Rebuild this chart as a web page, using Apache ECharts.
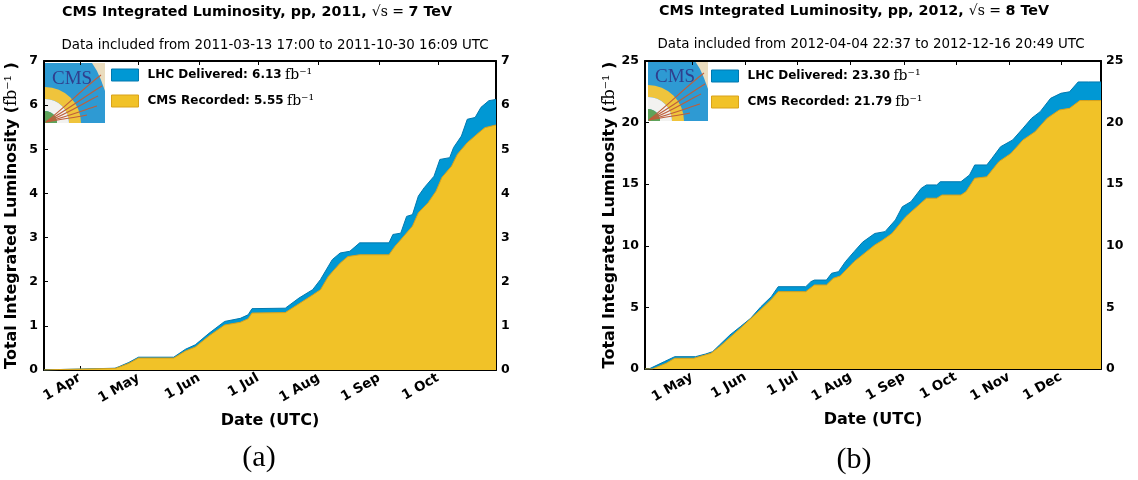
<!DOCTYPE html>
<html><head><meta charset="utf-8">
<script src="https://cdn.jsdelivr.net/npm/echarts@6/dist/echarts.min.js"></script>
<style>html,body{margin:0;padding:0;background:#fff}#c{width:1138px;height:480px}</style>
</head><body><div id="c"></div>
<script>
// ---------- DATA ----------
const range2011 = ['2011-03-13 17:00', '2011-10-30 16:09'];
const range2012 = ['2012-04-03 18:00', '2012-12-24 06:00'];

const tickDates2011 = ['2011-04-01','2011-05-01','2011-06-01','2011-07-01','2011-08-01','2011-09-01','2011-10-01'];
const tickLabels2011 = ['1 Apr','1 May','1 Jun','1 Jul','1 Aug','1 Sep','1 Oct'];
const tickDates2012 = ['2012-05-01','2012-06-01','2012-07-01','2012-08-01','2012-09-01','2012-10-01','2012-11-01','2012-12-01'];
const tickLabels2012 = ['1 May','1 Jun','1 Jul','1 Aug','1 Sep','1 Oct','1 Nov','1 Dec'];

const deliveredDates2011 = ['2011-03-13 17:00','2011-03-21','2011-04-19','2011-04-21','2011-04-26','2011-05-01','2011-05-19','2011-05-25','2011-05-30','2011-06-06','2011-06-14','2011-06-22','2011-06-26','2011-06-28','2011-07-15','2011-07-22','2011-07-29','2011-08-02','2011-08-08','2011-08-12','2011-08-17','2011-08-22','2011-09-06','2011-09-08','2011-09-12','2011-09-15','2011-09-18','2011-09-21','2011-09-24','2011-09-29','2011-10-02','2011-10-07','2011-10-09','2011-10-13','2011-10-16','2011-10-20','2011-10-23','2011-10-27','2011-10-30 16:09'];
const delivered2011 = [0,0.01,0.04,0.075,0.17,0.29,0.29,0.47,0.57,0.83,1.10,1.17,1.25,1.39,1.40,1.63,1.82,2.05,2.50,2.65,2.69,2.88,2.88,3.07,3.10,3.48,3.52,3.94,4.13,4.39,4.77,4.81,5.04,5.30,5.68,5.72,5.95,6.10,6.13];

const recordedDates2011 = ['2011-03-13 17:00','2011-03-21','2011-04-19','2011-04-21','2011-04-26','2011-05-01','2011-05-19','2011-05-25','2011-05-30','2011-06-06','2011-06-14','2011-06-22','2011-06-26','2011-06-28','2011-07-15','2011-07-22','2011-07-29','2011-08-02','2011-08-06','2011-08-12','2011-08-16','2011-08-22','2011-09-06','2011-09-09','2011-09-12','2011-09-18','2011-09-21','2011-09-26','2011-09-30','2011-10-03','2011-10-08','2011-10-11','2011-10-16','2011-10-22','2011-10-25','2011-10-30 16:09'];
const recorded2011 = [0,0.01,0.035,0.065,0.15,0.27,0.27,0.43,0.52,0.77,1.02,1.08,1.16,1.29,1.30,1.50,1.70,1.82,2.12,2.42,2.57,2.61,2.61,2.80,2.95,3.26,3.56,3.79,4.05,4.36,4.62,4.89,5.15,5.38,5.49,5.55];

const deliveredDates2012 = ['2012-04-03 18:00','2012-04-06','2012-04-15','2012-04-21','2012-05-03','2012-05-09','2012-05-13','2012-05-17','2012-05-23','2012-05-29','2012-06-04','2012-06-10','2012-06-16','2012-06-20','2012-07-06','2012-07-09','2012-07-11','2012-07-18','2012-07-21','2012-07-25','2012-07-29','2012-08-03','2012-08-08','2012-08-15','2012-08-21','2012-08-27','2012-08-31','2012-09-05','2012-09-11','2012-09-14','2012-09-20','2012-09-22','2012-10-04','2012-10-09','2012-10-12','2012-10-19','2012-10-22','2012-10-27','2012-11-03','2012-11-09','2012-11-14','2012-11-19','2012-11-25','2012-12-01','2012-12-06','2012-12-11','2012-12-16 20:49','2012-12-24 06:00'];
const delivered2012 = [0,0,0.6,1.0,1.0,1.22,1.41,1.95,2.76,3.43,4.11,5.06,5.87,6.68,6.68,7.09,7.22,7.22,7.77,7.90,8.71,9.52,10.30,11.00,11.15,12.10,13.17,13.58,14.67,14.94,14.94,15.20,15.20,15.75,16.56,16.56,17.10,18.04,18.59,19.54,20.35,20.89,21.97,22.38,22.50,23.30,23.30,23.30];

const recordedDates2012 = ['2012-04-03 18:00','2012-04-08','2012-04-16','2012-04-21','2012-05-02','2012-05-12','2012-05-17','2012-05-29','2012-06-10','2012-06-16','2012-06-20','2012-07-06','2012-07-11','2012-07-18','2012-07-22','2012-07-26','2012-08-03','2012-08-15','2012-08-19','2012-08-25','2012-09-02','2012-09-14','2012-09-20','2012-09-23','2012-10-04','2012-10-07','2012-10-12','2012-10-19','2012-10-26','2012-11-02','2012-11-09','2012-11-16','2012-11-23','2012-11-30','2012-12-06','2012-12-12','2012-12-16 20:49','2012-12-24 06:00'];
const recorded2012 = [0,0,0.46,0.87,0.87,1.27,1.81,3.30,4.84,5.65,6.28,6.28,6.82,6.82,7.36,7.55,8.71,10.06,10.40,11.00,12.36,13.86,13.86,14.12,14.12,14.40,15.48,15.60,16.83,17.50,18.59,19.26,20.35,21.02,21.16,21.79,21.79,21.79];

const legend2011 = ['LHC Delivered: 6.13', 'CMS Recorded: 5.55'];
const legend2012 = ['LHC Delivered: 23.30', 'CMS Recorded: 21.79'];
const titles = ['CMS Integrated Luminosity, pp, 2011, ', 'CMS Integrated Luminosity, pp, 2012, '];
const energies = ['7 TeV', '8 TeV'];
const subtitles = ['Data included from 2011-03-13 17:00 to 2011-10-30 16:09 UTC', 'Data included from 2012-04-04 22:37 to 2012-12-16 20:49 UTC'];

// ---------- HELPERS ----------
function ts(s) {
  const m = s.match(/^(\d{4})-(\d{2})-(\d{2})(?:\s(\d{2}):(\d{2}))?$/);
  return new Date(+m[1], +m[2]-1, +m[3], m[4] ? +m[4] : 0, m[5] ? +m[5] : 0).getTime();
}
const pairs = (d, v) => d.map((x, i) => [ts(x), v[i]]);

const SANS = 'DejaVu Sans', SERIF = 'DejaVu Serif';
const BLUE = '#0098D4', BLUE_EDGE = '#0079B0', YEL = '#F1C228', YEL_EDGE = '#D9A21A';
const axisLineStyle = { color: '#000', width: 2 };
const grids = [
  { left: 44, top: 61, width: 452, height: 309 },
  { left: 645, top: 61, width: 456, height: 308 }
];

function xAxes(gi, range, tickDates, tickLabels) {
  const tv = tickDates.map(ts);
  const common = {
    gridIndex: gi, type: 'value', min: ts(range[0]), max: ts(range[1]), scale: true,
    axisLine: { show: true, onZero: false, lineStyle: axisLineStyle },
    axisTick: { show: true, inside: true, length: 4, customValues: tv, lineStyle: { color: '#000', width: 1 } },
    splitLine: { show: false }
  };
  return [
    Object.assign({}, common, {
      position: 'bottom',
      axisLabel: {
        customValues: tv, rotate: 30, margin: 7, color: '#000', fontFamily: SANS, fontWeight: 'bold', fontSize: 13.5,
        formatter: v => { const i = tv.indexOf(v); return i >= 0 ? tickLabels[i] : ''; }
      },
      name: 'Date (UTC)', nameLocation: 'middle', nameGap: 43,
      nameTextStyle: { fontFamily: SANS, fontWeight: 'bold', fontSize: 16, color: '#000' }
    }),
    Object.assign({}, common, { position: 'top', axisLabel: { show: false } })
  ];
}
function yAxes(gi, max, interval) {
  const common = {
    gridIndex: gi, type: 'value', min: 0, max: max, interval: interval,
    axisLine: { show: true, lineStyle: axisLineStyle },
    axisTick: { show: true, inside: true, length: 4, lineStyle: { color: '#000', width: 1 } },
    splitLine: { show: false }
  };
  const lab = { color: '#000', fontFamily: SANS, fontWeight: 'bold', fontSize: 12.5 };
  return [
    Object.assign({}, common, {
      position: 'left', axisLabel: Object.assign({ margin: 6 }, lab),
      name: '{b|Total Integrated Luminosity (}{m|fb⁻¹}{b| )}', nameLocation: 'middle', nameGap: 24,
      nameTextStyle: { rich: {
        b: { fontFamily: SANS, fontWeight: 'bold', fontSize: 16, color: '#000' },
        m: { fontFamily: SERIF, fontSize: 16, color: '#000' } } }
    }),
    Object.assign({}, common, { position: 'right', axisLabel: Object.assign({ margin: 5 }, lab) })
  ];
}
function series(gi, names, dDates, dVals, rDates, rVals) {
  return [
    { type: 'line', name: names[0], xAxisIndex: gi * 2, yAxisIndex: gi * 2, data: pairs(dDates, dVals),
      symbol: 'none', showSymbol: false, z: 2,
      lineStyle: { color: BLUE_EDGE, width: 1 }, itemStyle: { color: BLUE, borderColor: BLUE_EDGE },
      areaStyle: { color: BLUE, opacity: 1 } },
    { type: 'line', name: names[1], xAxisIndex: gi * 2, yAxisIndex: gi * 2, data: pairs(rDates, rVals),
      symbol: 'none', showSymbol: false, z: 3,
      lineStyle: { color: YEL_EDGE, width: 1 }, itemStyle: { color: YEL, borderColor: YEL_EDGE },
      areaStyle: { color: YEL, opacity: 1 } }
  ];
}
function legend(names, left, top) {
  return {
    left: left, top: top, padding: 0, orient: 'vertical', icon: 'rect', itemWidth: 27, itemHeight: 12, itemGap: 12,
    selectedMode: false,
    data: [
      { name: names[0], itemStyle: { color: BLUE, borderColor: BLUE_EDGE, borderWidth: 1 } },
      { name: names[1], itemStyle: { color: YEL, borderColor: YEL_EDGE, borderWidth: 1 } }
    ],
    formatter: n => '{b|' + n + '} {m|fb⁻¹}',
    textStyle: { rich: {
      b: { fontFamily: SANS, fontWeight: 'bold', fontSize: 12, color: '#000', lineHeight: 12, padding: [0, 0, 0, 4] },
      m: { fontFamily: SERIF, fontSize: 14, color: '#000', lineHeight: 12 } } }
  };
}
function logo(x, y) {
  const bluePoly = [[0, 60], [0, 0], [47, 0], [52, 8], [56, 17], [60, 28], [60, 60]];
  const sec = (r0, r, fill) => ({ type: 'sector', shape: { cx: 0, cy: 60, r0: r0, r: r, startAngle: -Math.PI / 2, endAngle: 0, clockwise: true }, style: { fill: fill } });
  const curve = (x2, y2, cx1, cy1, cx2, cy2) => ({ type: 'bezierCurve', shape: { x1: 1, y1: 59, x2: x2, y2: y2, cpx1: cx1, cpy1: cy1, cpx2: cx2, cpy2: cy2 }, style: { stroke: '#BF5E3A', lineWidth: 1.1, fill: null } });
  return {
    type: 'group', x: x, y: y, silent: true, children: [
      { type: 'rect', shape: { x: 0, y: 0, width: 60, height: 60 }, style: { fill: '#EADCBE' } },
      { type: 'polygon', shape: { points: bluePoly }, style: { fill: '#2E9AD3' } },
      sec(24, 36, '#EFC43C'),
      sec(12, 24, '#F2F2F0'),
      sec(0, 12, '#5FA35A'),
      curve(56, 12, 20, 44, 40, 24),
      curve(57, 23, 22, 47, 42, 32),
      curve(53, 33, 24, 50, 42, 38),
      curve(52, 43, 24, 53, 42, 46),
      curve(42, 52, 18, 56, 32, 54),
      { type: 'text', style: { text: 'CMS', x: 7, y: 7, font: '19px "Liberation Serif"', fill: '#2F3F8E' } }
    ]
  };
}
function titleText(i, cx, cy) {
  return { type: 'text', silent: true, style: {
    text: '{b|' + titles[i] + '}{m|√s = }{b|' + energies[i] + '}', x: cx, y: cy, align: 'center', verticalAlign: 'middle',
    rich: { b: { fontFamily: SANS, fontWeight: 'bold', fontSize: 14.3, fill: '#000' }, m: { fontFamily: SERIF, fontSize: 14, fill: '#000' } } } };
}
function plainText(t, cx, cy, font) {
  return { type: 'text', silent: true, style: { text: t, x: cx, y: cy, align: 'center', verticalAlign: 'middle', font: font, fill: '#000' } };
}

const chart = echarts.init(document.getElementById('c'), null, { renderer: 'canvas' });
chart.setOption({
  animation: false,
  backgroundColor: '#fff',
  grid: grids,
  xAxis: xAxes(0, range2011, tickDates2011, tickLabels2011).concat(xAxes(1, range2012, tickDates2012, tickLabels2012)),
  yAxis: yAxes(0, 7, 1).concat(yAxes(1, 25, 5)),
  legend: [legend(legend2011, 111, 68), legend(legend2012, 711, 69)],
  series: series(0, legend2011, deliveredDates2011, delivered2011, recordedDates2011, recorded2011)
    .concat(series(1, legend2012, deliveredDates2012, delivered2012, recordedDates2012, recorded2012)),
  graphic: [
    logo(45, 63), logo(648, 61),
    titleText(0, 257, 12), titleText(1, 854, 11),
    plainText(subtitles[0], 275, 46, '13.4px "DejaVu Sans"'),
    plainText(subtitles[1], 871, 45, '13.4px "DejaVu Sans"'),
    plainText('(a)', 259, 458, '30px "Liberation Serif"'),
    plainText('(b)', 854, 460, '30px "Liberation Serif"')
  ]
});
</script></body></html>
